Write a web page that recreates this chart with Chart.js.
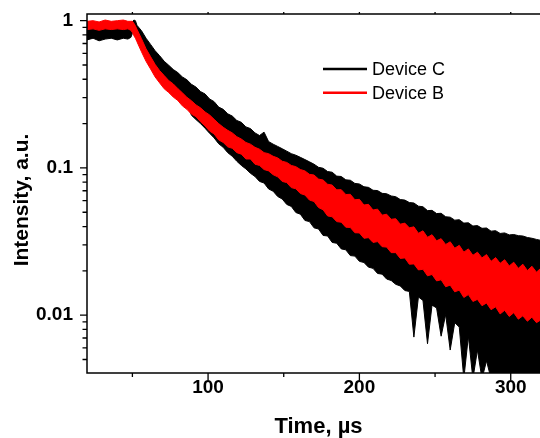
<!DOCTYPE html>
<html><head><meta charset="utf-8">
<script src="https://cdn.jsdelivr.net/npm/chart.js@4.4.1/dist/chart.umd.min.js"></script>
<style>
html,body{margin:0;padding:0;background:#fff;overflow:hidden;}
#wrap{width:540px;height:438px;overflow:hidden;position:relative;}
canvas{display:block;}
</style></head>
<body><div id="wrap"><canvas id="c" width="560" height="438" style="width:560px;height:438px"></canvas></div>
<script>
// Time axis (µs)
const time = [20,24,28,32,36,40,44,47,49,50,51,52,
53,56,59,62,65,68,71,74,77,80,
83,86,89,92,95,98,101,104,107,110,
113,116,119,122,125,128,131,134,137,140,
143,146,149,152,155,158,161,164,167,170,
173,176,179,182,185,188,191,194,197,200,
203,206,209,212,215,218,221,224,227,230,
233,236,239,242,245,248,251,254,257,260,
263,266,269,272,275,278,281,284,287,290,
293,296,299,302,305,308,311,314,317,320];

// Device C (black) noise envelope, upper and lower edge
const cUpper = [0.91,0.92,0.90,0.92,0.93,0.91,0.92,0.91,0.92,0.98,1.01,1.0,
0.93,0.855,0.76,0.69,0.625,0.578,0.53,0.498,0.466,0.444,
0.415,0.397,0.37,0.354,0.33,0.318,0.294,0.282,0.259,0.25,
0.233,0.225,0.21,0.204,0.19,0.185,0.173,0.166,0.175,0.151,
0.145,0.14,0.135,0.13,0.125,0.122,0.118,0.114,0.11,0.106,
0.101,0.0995,0.0945,0.0935,0.088,0.0875,0.083,0.0825,0.0785,0.0778,
0.0745,0.0738,0.0705,0.0702,0.0672,0.0668,0.0645,0.0638,0.061,0.0605,
0.0582,0.0578,0.055,0.0545,0.0513,0.0515,0.049,0.0492,0.0466,0.0463,
0.0442,0.0445,0.0422,0.0424,0.0403,0.0406,0.0389,0.0391,0.0372,0.0375,
0.0359,0.0362,0.0351,0.0353,0.0347,0.0345,0.0337,0.0333,0.0327,0.0322];
const cLower = [0.74,0.76,0.73,0.75,0.76,0.74,0.76,0.75,0.77,0.82,0.84,0.82,
0.8,0.69,0.589,0.519,0.462,0.417,0.385,0.359,0.339,0.316,
0.295,0.275,0.228,0.213,0.2,0.186,0.172,0.16,0.146,0.138,
0.127,0.12,0.111,0.104,0.0985,0.092,0.0875,0.081,0.079,0.072,
0.0695,0.064,0.0615,0.0565,0.0548,0.0498,0.0485,0.044,0.0432,0.0392,
0.0385,0.0348,0.0345,0.0312,0.0308,0.0282,0.0278,0.0254,0.0252,0.0232,
0.0228,0.0212,0.0208,0.0192,0.019,0.0176,0.0172,0.0162,0.0158,0.0147,
0.0145,0.0071,0.0133,0.0126,0.0064,0.0117,0.0112,0.0072,0.0101,0.0058,
0.0089,0.0083,0.0037,0.0072,0.0037,0.0058,0.0037,0.0049,0.0037,0.0037,
0.0037,0.0037,0.0037,0.0037,0.0037,0.0037,0.0037,0.0037,0.0037,0.0037];

// Device B (red) noise envelope, upper and lower edge
const bUpper = [0.99,1.0,0.98,1.01,0.99,1.0,1.01,0.99,0.99,0.99,0.96,0.92,
0.875,0.755,0.645,0.57,0.505,0.458,0.424,0.392,0.372,0.346,
0.324,0.302,0.286,0.268,0.256,0.24,0.229,0.214,0.2,0.189,
0.18,0.173,0.163,0.157,0.149,0.145,0.138,0.134,0.127,0.125,
0.12,0.117,0.111,0.109,0.104,0.102,0.0975,0.0955,0.0905,0.0895,
0.084,0.0828,0.0775,0.0765,0.071,0.0712,0.066,0.0662,0.0608,0.0612,
0.056,0.0566,0.0518,0.0525,0.0478,0.0485,0.0448,0.0452,0.0415,0.0422,
0.0392,0.0398,0.036,0.0374,0.0338,0.0352,0.032,0.0331,0.0302,0.0315,
0.0285,0.0298,0.0268,0.0282,0.0255,0.0268,0.0245,0.0258,0.0232,0.0246,
0.0225,0.0238,0.0216,0.0229,0.0208,0.0222,0.0201,0.0215,0.0196,0.0209];
const bLower = [0.87,0.88,0.86,0.88,0.87,0.88,0.87,0.88,0.86,0.83,0.79,0.76,
0.72,0.615,0.53,0.47,0.415,0.378,0.345,0.325,0.303,0.287,
0.264,0.25,0.232,0.223,0.206,0.193,0.178,0.17,0.155,0.149,
0.139,0.136,0.127,0.124,0.115,0.115,0.106,0.104,0.0975,0.0955,
0.09,0.087,0.081,0.0795,0.0735,0.0722,0.067,0.0655,0.0605,0.0592,
0.0538,0.052,0.0472,0.0466,0.0432,0.0428,0.0396,0.0394,0.0363,0.0362,
0.0333,0.0336,0.0312,0.0316,0.0292,0.029,0.0266,0.0266,0.0243,0.0245,
0.0222,0.0223,0.0203,0.0205,0.0185,0.0189,0.0171,0.0174,0.0156,0.016,
0.0144,0.0148,0.0132,0.0138,0.0124,0.0128,0.0116,0.0121,0.0109,0.0114,
0.0102,0.0108,0.0098,0.0104,0.0094,0.0099,0.0091,0.0097,0.0089,0.0093];

const seriesNames = ['Device C', 'Device B'];
const seriesColors = ['#000000', '#ff0000'];
const xTitle = 'Time, µs';
const yTitle = 'Intensity, a.u.';

const xMajorTicks = [100, 200, 300];
const xMinorTicks = [50, 150, 250];
const yMajorTicks = [0.01, 0.1, 1];
const yTickLabels = ['0.01', '0.1', '1'];
const yMinorTicks = [0.005,0.006,0.007,0.008,0.009,0.02,0.03,0.04,0.05,0.06,0.07,0.08,0.09,0.2,0.3,0.4,0.5,0.6,0.7,0.8,0.9];

const FONT = '"Liberation Sans", Arial, Helvetica, sans-serif';
Chart.defaults.font.family = FONT;
Chart.defaults.color = '#000';

const pts = arr => time.map((t, i) => ({x: t, y: arr[i]}));

const framePlugin = {
  id: 'frame',
  afterDatasetsDraw(chart) {
    const {ctx, chartArea: a, scales: {x, y}} = chart;
    ctx.save();
    ctx.strokeStyle = '#000';
    ctx.lineWidth = 1.5;
    ctx.strokeRect(a.left, a.top, a.right - a.left, a.bottom - a.top);
    ctx.lineWidth = 1.3;
    ctx.beginPath();
    yMajorTicks.forEach(v => { const p = y.getPixelForValue(v); ctx.moveTo(a.left, p); ctx.lineTo(a.left - 7, p); });
    yMinorTicks.forEach(v => { const p = y.getPixelForValue(v); ctx.moveTo(a.left, p); ctx.lineTo(a.left - 4.5, p); });
    xMajorTicks.forEach(v => { const p = x.getPixelForValue(v); ctx.moveTo(p, a.bottom); ctx.lineTo(p, a.bottom + 7.5); ctx.moveTo(p, a.top); ctx.lineTo(p, a.top - 2); });
    xMinorTicks.forEach(v => { const p = x.getPixelForValue(v); ctx.moveTo(p, a.bottom); ctx.lineTo(p, a.bottom + 4); ctx.moveTo(p, a.top); ctx.lineTo(p, a.top - 2); });
    ctx.stroke();
    // legend
    ctx.font = '18px ' + FONT;
    ctx.textBaseline = 'middle';
    ctx.textAlign = 'left';
    seriesNames.forEach((name, i) => {
      const ly = a.top + 55 + i * 23.7;
      const lx = a.left + 236;
      ctx.strokeStyle = seriesColors[i];
      ctx.lineWidth = 2.5;
      ctx.beginPath(); ctx.moveTo(lx, ly); ctx.lineTo(lx + 44, ly); ctx.stroke();
      ctx.fillStyle = '#000';
      ctx.fillText(name, lx + 49, ly + 1);
    });
    // axis titles
    ctx.fillStyle = '#000';
    ctx.font = 'bold 22px ' + FONT;
    ctx.textAlign = 'center';
    ctx.textBaseline = 'alphabetic';
    ctx.fillText(xTitle, 318.5, 433);
    ctx.font = 'bold 21px ' + FONT;
    ctx.translate(28, 200);
    ctx.rotate(-Math.PI / 2);
    ctx.fillText(yTitle, 0, 0);
    ctx.restore();
  }
};

const common = {pointRadius: 0, borderWidth: 1, tension: 0};

new Chart(document.getElementById('c'), {
  type: 'line',
  data: {
    datasets: [
      {...common, label: seriesNames[0] + ' upper', data: pts(cUpper), borderColor: seriesColors[0], fill: false, order: 2},
      {...common, label: seriesNames[0], data: pts(cLower), borderColor: seriesColors[0], backgroundColor: seriesColors[0], fill: '-1', order: 2},
      {...common, label: seriesNames[1] + ' upper', data: pts(bUpper), borderColor: seriesColors[1], fill: false, order: 1},
      {...common, label: seriesNames[1], data: pts(bLower), borderColor: seriesColors[1], backgroundColor: seriesColors[1], fill: '-1', order: 1}
    ]
  },
  options: {
    responsive: false,
    animation: false,
    devicePixelRatio: 1,
    layout: {padding: {top: 14, right: 19, left: 0, bottom: 0}},
    plugins: {legend: {display: false}, tooltip: {enabled: false}, title: {display: false}},
    scales: {
      x: {
        type: 'linear', min: 20, max: 320,
        afterBuildTicks: s => { s.ticks = xMajorTicks.map(v => ({value: v})); },
        afterFit: s => { s.height = 65; s.paddingLeft = 0; s.paddingRight = 0; },
        grid: {display: false, drawTicks: false},
        border: {display: false},
        ticks: {font: {size: 19, weight: 'bold'}, color: '#000', padding: 3, maxRotation: 0, autoSkip: false, callback: v => String(v)},
        title: {display: false}
      },
      y: {
        type: 'logarithmic', min: 0.00405, max: 1.11,
        afterBuildTicks: s => { s.ticks = yMajorTicks.map(v => ({value: v})); },
        afterFit: s => { s.width = 87; s.paddingTop = 0; s.paddingBottom = 0; },
        grid: {display: false, drawTicks: false},
        border: {display: false},
        ticks: {font: {size: 19, weight: 'bold'}, color: '#000', padding: 14, autoSkip: false, callback: (v, i) => yTickLabels[i]},
        title: {display: false}
      }
    }
  },
  plugins: [framePlugin]
});
</script>
</body></html>
